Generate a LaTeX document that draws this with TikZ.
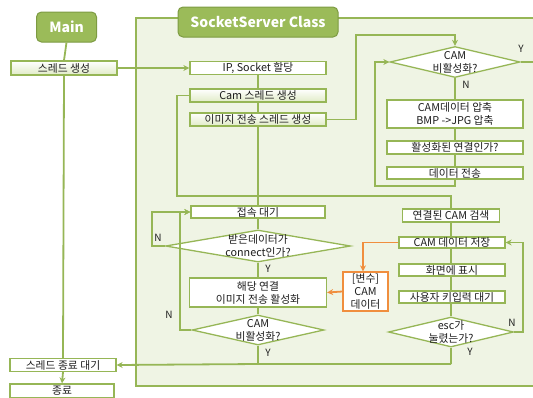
\documentclass[tikz,border=0pt]{standalone}
\usepackage{fontspec}
\setmainfont{Noto Sans CJK KR}
\usetikzlibrary{shapes.geometric,arrows.meta}
\definecolor{gline}{RGB}{150,182,86}
\definecolor{gfill}{RGB}{155,187,89}
\definecolor{gdark}{RGB}{125,155,66}
\definecolor{bgc}{RGB}{239,244,228}
\definecolor{gbox}{RGB}{224,235,198}
\definecolor{org}{RGB}{240,142,62}
\definecolor{txtc}{RGB}{30,30,30}
\tikzset{
 box/.style={draw=gline, line width=1.3pt, fill=white, inner sep=0pt, font=\fontsize{10.8}{13}\selectfont, text=txtc, align=center},
 gbx/.style={box, top color=white, bottom color=gbox},
 dia/.style={diamond, draw=gline, line width=1.3pt, fill=white, inner sep=0pt},
 dtext/.style={font=\fontsize{10.8}{13}\selectfont, text=txtc, align=center},
 ttl/.style={draw=gdark, line width=1pt, fill=gfill, rounded corners=5pt, text=white, font=\fontsize{14}{16}\selectfont\bfseries, inner sep=0pt},
 flow/.style={draw=gline, line width=1.8pt},
 arr/.style={flow, -{Stealth[length=6pt,width=6pt]}},
 oarr/.style={draw=org, line width=1.8pt, -{Stealth[length=6pt,width=6pt]}},
 lbl/.style={font=\fontsize{10}{11}\selectfont, text=txtc},
}
\begin{document}
\begin{tikzpicture}[x=1pt,y=-1pt]
\useasboundingbox (0,0) rectangle (533,397);
\clip (0,0) rectangle (533,397);
% class background
\draw[draw=gline, line width=1.3pt, fill=bgc] (136,18) rectangle (560,386);
% titles
\node[ttl, minimum width=60pt, minimum height=30pt] (main) at (66.5,27) {Main};
\node[ttl, minimum width=160pt, minimum height=30pt] (cls) at (258,22) {SocketServer Class};
% main column
\node[gbx, minimum width=106pt, minimum height=14pt] (thr) at (64,68) {스레드 생성};
\node[box, minimum width=106pt, minimum height=13pt] (endw) at (63,365) {스레드 종료 대기};
\node[box, minimum width=104pt, minimum height=14pt] (fin) at (62,391) {종료};
% socket server column
\node[box, minimum width=136pt, minimum height=13pt] (ip) at (258,68) {IP, Socket 할당};
\node[gbx, minimum width=136pt, minimum height=13pt] (cam) at (258,95.5) {Cam 스레드 생성};
\node[gbx, minimum width=136pt, minimum height=13pt] (img) at (258,119.5) {이미지 전송 스레드 생성};
\node[box, minimum width=134pt, minimum height=12pt] (acc) at (258,212) {접속 대기};
\node[dia, minimum width=185pt, minimum height=32pt] (d2) at (258,246) {};
\node[dtext] (d2t) at (d2) {받은데이터가\\connect인가?};
\node[box, minimum width=137pt, minimum height=29pt] (act2) at (258,292.5) {해당 연결\\이미지 전송 활성화};
\node[dia, minimum width=132pt, minimum height=30pt] (d3) at (258,330) {};
\node[dtext] (d3t) at (d3) {CAM\\비활성화?};
% image thread column
\node[dia, minimum width=130pt, minimum height=31pt] (d1) at (455,62) {};
\node[dtext] (d1t) at (d1) {CAM\\비활성화?};
\node[box, minimum width=136pt, minimum height=28pt] (cmp) at (455,114) {CAM데이터 압축\\BMP ->JPG 압축};
\node[box, minimum width=136pt, minimum height=13pt] (act) at (455,147.5) {활성화된 연결인가?};
\node[box, minimum width=136pt, minimum height=12pt] (snd) at (455,173) {데이터 전송};
% cam thread column
\node[box, minimum width=97pt, minimum height=13pt] (srch) at (451,215.5) {연결된 CAM 검색};
\node[box, minimum width=106pt, minimum height=11pt] (store) at (452,242.5) {CAM 데이터 저장};
\node[box, minimum width=106pt, minimum height=12pt] (disp) at (452,270) {화면에 표시};
\node[box, minimum width=106pt, minimum height=12pt] (key) at (452,297) {사용자 키입력 대기};
\node[dia, minimum width=125pt, minimum height=30pt] (d4) at (451,332) {};
\node[dtext] (d4t) at (d4) {esc가\\눌렸는가?};
\node[box, draw=org, minimum width=45pt, minimum height=39pt] (var) at (365.5,291.5) {[변수]\\CAM\\데이터};
% helper coordinates
\coordinate (j1) at (258,364);
\coordinate (j2) at (451,364);
\coordinate (redge) at (540,62);
% main column connectors
\draw[flow] (main.south) -- (thr.north);
\draw[flow] (thr.south) -- (endw.north);
\draw[arr] (endw.south) -- (fin.north);
\draw[arr] (thr.east) -- (ip.west);
% socket server flow
\draw[flow] (ip.south) -- (cam.north);
\draw[flow] (cam.south) -- (img.north);
\draw[flow] (img.south) -- (acc.north);
\draw[flow] (acc.south) -- (d2.north);
\draw[flow] (d2.south) -- (act2.north);
\draw[flow] (act2.south) -- (d3.north);
\draw[flow] (d3.south) -- (j1);
\draw[arr] (d2.west) -- (152,246) -- (152,212) -- (acc.west);
\draw[arr] (d3.west) -- (180,330) -- (180,212) -- (acc.west);
\draw[arr] (j2) -- (j1) -- (endw.east);
% image thread
\draw[arr] (img.east) -- (356,119.5) -- (356,35) -- (455,35) -- (d1.north);
\draw[flow] (d1.south) -- (cmp.north);
\draw[flow] (cmp.south) -- (act.north);
\draw[flow] (act.south) -- (snd.north);
\draw[arr] (snd.south) -- (455,186) -- (375,186) -- (375,62) -- (d1.west);
\draw[flow] (d1.east) -- (redge);
% cam thread
\draw[flow] (cam.west) -- (177,95.5) -- (177,196) -- (451,196) -- (srch.north);
\draw[flow] (srch.south) -- (store.north -| srch.south);
\draw[flow] (store.south -| srch.south) -- (disp.north -| srch.south);
\draw[flow] (disp.south -| srch.south) -- (key.north -| srch.south);
\draw[flow] (key.south -| srch.south) -- (d4.north);
\draw[flow] (d4.south) -- (j2);
\draw[arr] (d4.east) -- (523,332) -- (523,242.5) -- (store.east);
% orange
\draw[oarr] (store.west) -- (363,242.5) -- (var.north -| 363,0);
\draw[oarr] (var.west) -- (act2.east);
% labels
\node[lbl] (y1) at (521,49) {Y};
\node[lbl] (n1) at (466,85) {N};
\node[lbl] (n2) at (158,238) {N};
\node[lbl] (y2) at (268,269) {Y};
\node[lbl] (n3) at (169,315) {N};
\node[lbl] (y3) at (268,353) {Y};
\node[lbl] (n4) at (512,323) {N};
\node[lbl] (y4) at (470,352) {Y};
\end{tikzpicture}
\end{document}
